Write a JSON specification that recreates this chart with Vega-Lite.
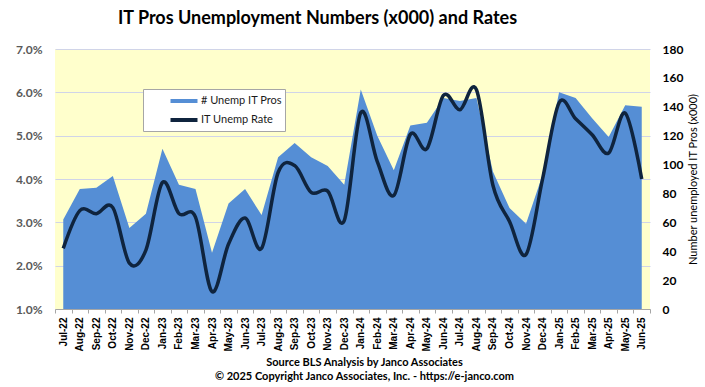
{
  "$schema": "https://vega.github.io/schema/vega-lite/v6.json",
  "width": 595,
  "height": 260,
  "autosize": {"type": "none"},
  "padding": {"left": 55, "top": 49, "right": 55, "bottom": 78},
  "background": "white",
  "title": {
    "text": "IT Pros Unemployment Numbers (x000) and Rates",
    "font": "Lato",
    "fontSize": 18,
    "fontWeight": "bold",
    "color": "black",
    "anchor": "middle",
    "dx": -35,
    "offset": 15
  },
  "config": {
    "view": {"fill": "#FFFFCC", "stroke": null}
  },
  "data": {
    "values": [
      {"month": "Jul-22", "count": 62, "rate": 0.0240},
      {"month": "Aug-22", "count": 83, "rate": 0.0327},
      {"month": "Sep-22", "count": 84, "rate": 0.0320},
      {"month": "Oct-22", "count": 92, "rate": 0.0334},
      {"month": "Nov-22", "count": 56, "rate": 0.0206},
      {"month": "Dec-22", "count": 66, "rate": 0.0236},
      {"month": "Jan-23", "count": 111, "rate": 0.0392},
      {"month": "Feb-23", "count": 86, "rate": 0.0320},
      {"month": "Mar-23", "count": 83, "rate": 0.0312},
      {"month": "Apr-23", "count": 39, "rate": 0.0140},
      {"month": "May-23", "count": 73, "rate": 0.0250},
      {"month": "Jun-23", "count": 83, "rate": 0.0310},
      {"month": "Jul-23", "count": 65, "rate": 0.0240},
      {"month": "Aug-23", "count": 105, "rate": 0.0415},
      {"month": "Sep-23", "count": 115, "rate": 0.0431},
      {"month": "Oct-23", "count": 105, "rate": 0.0369},
      {"month": "Nov-23", "count": 99, "rate": 0.0372},
      {"month": "Dec-23", "count": 86, "rate": 0.0304},
      {"month": "Jan-24", "count": 152, "rate": 0.0553},
      {"month": "Feb-24", "count": 120, "rate": 0.0440},
      {"month": "Mar-24", "count": 96, "rate": 0.0362},
      {"month": "Apr-24", "count": 127, "rate": 0.0503},
      {"month": "May-24", "count": 129, "rate": 0.0470},
      {"month": "Jun-24", "count": 146, "rate": 0.0593},
      {"month": "Jul-24", "count": 144, "rate": 0.0560},
      {"month": "Aug-24", "count": 146, "rate": 0.0606},
      {"month": "Sep-24", "count": 95, "rate": 0.0385},
      {"month": "Oct-24", "count": 70, "rate": 0.0302},
      {"month": "Nov-24", "count": 59, "rate": 0.0226},
      {"month": "Dec-24", "count": 93, "rate": 0.0400},
      {"month": "Jan-25", "count": 150, "rate": 0.0576},
      {"month": "Feb-25", "count": 146, "rate": 0.0539},
      {"month": "Mar-25", "count": 132, "rate": 0.0502},
      {"month": "Apr-25", "count": 119, "rate": 0.0460},
      {"month": "May-25", "count": 141, "rate": 0.0552},
      {"month": "Jun-25", "count": 140, "rate": 0.0400}
    ]
  },
  "encoding": {
    "x": {
      "field": "month",
      "type": "ordinal",
      "sort": null,
      "bandPosition": 0.5,
      "scale": {"type": "band", "paddingInner": 0, "paddingOuter": 0},
      "axis": {
        "title": ["Source BLS Analysis by Janco Associates", "© 2025 Copyright Janco Associates, Inc. - https://e-janco.com"],
        "titleFont": "Lato",
        "titleFontSize": 11,
        "titleFontWeight": "bold",
        "titleColor": "black",
        "titleX": 309,
        "titleY": 47,
        "titleAlign": "center",
        "titleBaseline": "top",
        "titleLineHeight": 14,
        "labelAngle": 270,
        "labelFont": "Liberation Sans",
        "labelFontSize": 10,
        "labelFontWeight": "bold",
        "labelColor": "black",
        "labelPadding": 4,
        "tickBand": "extent",
        "tickColor": "#A6A6A6",
        "tickSize": 4,
        "domainColor": "#A6A6A6",
        "grid": false
      }
    }
  },
  "layer": [
    {
      "mark": {"type": "area", "fill": "#558ED5", "strokeWidth": 0, "interpolate": "linear"},
      "encoding": {
        "y": {
          "field": "count",
          "type": "quantitative",
          "scale": {"domain": [0, 180], "nice": false},
          "axis": {
            "orient": "right",
            "values": [0, 20, 40, 60, 80, 100, 120, 140, 160, 180],
            "title": "Number unemployed IT Pros (x000)",
            "titleFont": "Lato",
            "titleFontSize": 11,
            "titleFontWeight": "normal",
            "titleColor": "black",
            "titleAngle": 270,
            "titleAlign": "center",
            "titleBaseline": "middle",
            "titleX": 43,
            "titleY": 130,
            "labelFont": "Lato",
            "labelFontSize": 12,
            "labelFontWeight": "bold",
            "labelColor": "black",
            "labelPadding": 12,
            "ticks": false,
            "domain": false,
            "grid": false
          }
        },
        "stroke": {
          "datum": "# Unemp IT Pros",
          "scale": {"domain": ["# Unemp IT Pros", "IT Unemp Rate"], "range": ["#558ED5", "#0F243E"]},
          "legend": {
            "orient": "none",
            "legendX": 88,
            "legendY": 40,
            "title": null,
            "symbolType": "M-2,0H2",
            "symbolSize": 182,
            "symbolStrokeWidth": 4,
            "labelFont": "Lato",
            "labelFontSize": 11,
            "labelColor": "#1a1a1a",
            "fillColor": "white",
            "strokeColor": "#A6A6A6",
            "padding": 3,
            "symbolOffset": 29,
            "rowPadding": 2,
            "labelOffset": 8
          }
        }
      }
    },
    {
      "mark": {"type": "line", "interpolate": "cardinal", "strokeWidth": 3.5},
      "encoding": {
        "y": {
          "field": "rate",
          "type": "quantitative",
          "scale": {"domain": [0.01, 0.07], "nice": false},
          "axis": {
            "orient": "left",
            "format": ".1%",
            "values": [0.01, 0.02, 0.03, 0.04, 0.05, 0.06, 0.07],
            "title": null,
            "labelFont": "Lato",
            "labelFontSize": 12,
            "labelFontWeight": "bold",
            "labelColor": "#595959",
            "labelPadding": 13,
            "ticks": false,
            "domain": false,
            "grid": true,
            "gridColor": "#D0D4E8",
            "gridWidth": 1
          }
        },
        "stroke": {"datum": "IT Unemp Rate"}
      }
    }
  ],
  "resolve": {"scale": {"y": "independent"}}
}
